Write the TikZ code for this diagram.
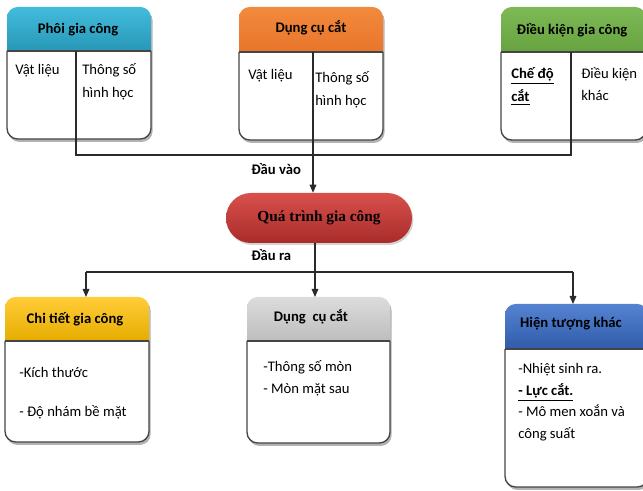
\documentclass[tikz,border=0pt]{standalone}
\usepackage{fontspec}
\setmainfont{Carlito}
\newfontfamily\procfont{Liberation Serif}
\usetikzlibrary{shadows,arrows.meta}

\definecolor{hdrAtop}{HTML}{43BCDC}
\definecolor{hdrAbot}{HTML}{2897B6}
\definecolor{hdrBtop}{HTML}{F28A3E}
\definecolor{hdrBbot}{HTML}{E8752A}
\definecolor{hdrCtop}{HTML}{7DB955}
\definecolor{hdrCbot}{HTML}{66A23F}
\definecolor{procTop}{HTML}{D8504C}
\definecolor{procBot}{HTML}{A82C2A}
\definecolor{outAtop}{HTML}{FFCD38}
\definecolor{outAbot}{HTML}{E6AC00}
\definecolor{outBtop}{HTML}{DCDCDC}
\definecolor{outBbot}{HTML}{BDBDBD}
\definecolor{outCtop}{HTML}{5583D2}
\definecolor{outCbot}{HTML}{2F5BAA}
\definecolor{edgecol}{HTML}{454545}
\definecolor{linecol}{HTML}{2A2A2A}

\tikzset{
  boxedge/.style={draw=edgecol, line width=1pt},
  conn/.style={draw=linecol, line width=0.8pt},
  arr/.style={conn, -{Triangle[length=6pt,width=5pt]}},
  txt/.style={anchor=base west, inner sep=0pt, font=\fontsize{11}{13}\selectfont},
  hdr/.style={anchor=base, inner sep=0pt, font=\bfseries\fontsize{11}{13}\selectfont},
  lbl/.style={anchor=base west, inner sep=0pt, font=\bfseries\fontsize{11}{13}\selectfont},
  proc/.style={rounded corners=18.7pt, minimum width=139.5pt, minimum height=37.5pt,
    top color=procTop, bottom color=procBot, draw=none,
    drop shadow={shadow xshift=1pt, shadow yshift=-1.5pt, opacity=0.35},
    font=\procfont\bfseries\fontsize{11.5}{13}\selectfont},
}

% name, x1, y1, x2, y2, yh, top colour, bottom colour  (y given as positive pixels downward)
\newcommand\mybox[8]{%
  \path[fill=white, rounded corners=8pt,
    drop shadow={shadow xshift=1.2pt, shadow yshift=-2.2pt, opacity=0.6}]
    (#2,-#3) rectangle (#4,-#5);
  \begin{scope}
    \clip[rounded corners=8pt] (#2,-#3) rectangle (#4,-#5);
    \shade[top color=#7, bottom color=#8] (#2,-#3) rectangle (#4,-#6);
  \end{scope}
  \draw[boxedge, rounded corners=8pt] (#2,-#6) -- (#2,-#5) -- (#4,-#5) -- (#4,-#6);
  \draw[boxedge] (#2,-#6) -- (#4,-#6);
  \coordinate (#1-nw) at (#2,-#3);
  \coordinate (#1-se) at (#4,-#5);
}

\begin{document}
\begin{tikzpicture}[x=0.75pt, y=0.75pt]
\useasboundingbox (0,0) rectangle (643,-491);

% ---- input boxes
\mybox{phoi}{7}{7}{151}{139}{51}{hdrAtop}{hdrAbot}
\mybox{dungcu}{239}{7}{383}{140}{52}{hdrBtop}{hdrBbot}
\mybox{dieukien}{501}{7}{646}{140}{52}{hdrCtop}{hdrCbot}

\node[hdr] (h1) at (78,-34) {Phôi gia công};
\node[hdr] (h2) at (311,-33) {Dụng cụ cắt};
\node[hdr] (h3) at (572,-35) {Điều kiện gia công};

\node[txt] (t11) at (15,-75) {Vật liệu};
\node[txt] (t12) at (82,-75) {Thông số};
\node[txt] (t13) at (82,-98) {hình học};

\node[txt] (t21) at (248,-80) {Vật liệu};
\node[txt] (t22) at (315,-83) {Thông số};
\node[txt] (t23) at (315,-106) {hình học};

\node[txt, font=\bfseries\fontsize{11}{13}\selectfont] (t31) at (511,-79) {\underline{Chế độ}};
\node[txt, font=\bfseries\fontsize{11}{13}\selectfont] (t32) at (511,-102) {\underline{cắt}};
\node[txt] (t33) at (581,-79) {Điều kiện};
\node[txt] (t34) at (581,-101) {khác};

% dividers / input connectors
\coordinate (d1) at (76,-51);
\coordinate (d2) at (313,-52);
\coordinate (d3) at (571,-52);
\coordinate (inL) at (76,-155);
\coordinate (inR) at (571,-155);

% ---- process
\node[proc] (proc) at (319,-218) {Quá trình gia công};

\draw[conn] (d1) -- (inL) -- (inR) -- (d3);
\draw[arr] (d2) -- (d2 |- proc.north);

\node[lbl] (lin) at (251,-175) {Đầu vào};
\node[lbl] (lout) at (251,-261) {Đầu ra};

% ---- output boxes
\mybox{chitiet}{5}{297}{149}{442}{341}{outAtop}{outAbot}
\mybox{dungcu2}{247}{297}{390}{443}{341}{outBtop}{outBbot}
\mybox{hientuong}{505}{304}{648}{487}{349}{outCtop}{outCbot}

\node[hdr] (h4) at (75,-324) {Chi tiết gia công};
\node[hdr] (h5) at (311,-322) {Dụng~ cụ cắt};
\node[hdr] (h6) at (571,-328) {Hiện tượng khác};

\node[txt] (t41) at (19,-378) {-Kích thước};
\node[txt] (t42) at (19,-417) {- Độ nhám bề mặt};

\node[txt] (t51) at (263,-372) {-Thông số mòn};
\node[txt] (t52) at (263,-394) {- Mòn mặt sau};

\node[txt] (t61) at (518,-374) {-Nhiệt sinh ra.};
\node[txt, font=\bfseries\fontsize{11}{13}\selectfont] (t62) at (518,-396) {\underline{- Lực cắt.}};
\node[txt] (t63) at (518,-417) {- Mô men xoắn và};
\node[txt] (t64) at (518,-439) {công suất};

% output connectors
\coordinate (pout) at (315,-243);
\coordinate (oJ) at (315,-272);
\coordinate (oL) at (86,-272);
\coordinate (oR) at (573,-272);
\coordinate (aL) at (86,-297);
\coordinate (aM) at (315,-297);
\coordinate (aR) at (573,-304);

\draw[conn] (pout) -- (oJ);
\draw[conn] (oL) -- (oR);
\draw[arr] (oL) -- (aL);
\draw[arr] (oJ) -- (aM);
\draw[arr] (oR) -- (aR);
\end{tikzpicture}
\end{document}
